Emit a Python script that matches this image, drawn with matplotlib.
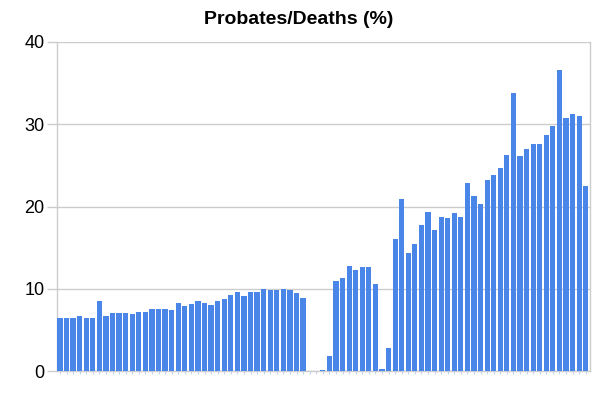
import numpy as np
import matplotlib
matplotlib.use('Agg')
import matplotlib.pyplot as plt

plt.rcParams['font.family'] = ['Liberation Sans', 'DejaVu Sans']

# Probates / Deaths ratio, one bar per year
ratio = [6.5, 6.5, 6.5, 6.7, 6.5, 6.5, 8.5, 6.7, 7.1, 7.1,
         7.0, 6.9, 7.2, 7.2, 7.55, 7.55, 7.55, 7.4, 8.3, 7.9,
         8.15, 8.5, 8.3, 8.0, 8.5, 8.7, 9.3, 9.6, 9.15, 9.6,
         9.6, 10.0, 9.9, 9.9, 10.0, 9.9, 9.5, 8.9, 0.0, 0.0,
         0.15, 1.8, 10.95, 11.3, 12.8, 12.3, 12.65, 12.65, 10.6, 0.2,
         2.85, 16.1, 20.9, 14.4, 15.5, 17.7, 19.3, 17.2, 18.7, 18.6,
         19.2, 18.75, 22.9, 21.3, 20.3, 23.25, 23.85, 24.7, 26.3, 33.75,
         26.2, 27.0, 27.65, 27.65, 28.75, 29.8, 36.55, 30.7, 31.2, 31.05,
         22.5]
x = np.arange(len(ratio))
yticks = [0, 10, 20, 30, 40]

fig = plt.figure(figsize=(5.97, 3.94), dpi=100)
ax = fig.add_axes([57/597, 1-371/394, 533/597, 329/394])

ax.bar(x, ratio, width=0.8, color='#4a86e8', zorder=3)

ax.set_xlim(-0.45, 80.65)
ax.set_ylim(0, 40)
ax.set_yticks(yticks)
ax.set_yticklabels([str(t) for t in yticks], fontsize=13)
ax.yaxis.grid(True, color='#cccccc', linewidth=1, zorder=0)
ax.set_xticks(x)
ax.set_xticklabels([])
ax.tick_params(axis='x', length=2, color='#c8d4ee', width=0.8)
ax.tick_params(axis='y', length=7, color='#cccccc', width=1, pad=2)

ax.spines['top'].set_visible(False)
for side in ['left', 'right', 'bottom']:
    ax.spines[side].set_color('#cccccc')
    ax.spines[side].set_linewidth(1)

fig.text(299/597, 1-20/394, 'Probates/Deaths (%)', ha='center', va='center',
         fontsize=14, fontweight='bold')

fig.savefig('out.png', dpi=100)
